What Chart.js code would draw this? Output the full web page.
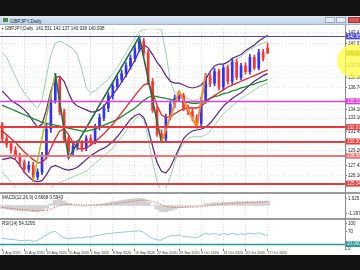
<!DOCTYPE html>
<html>
<head>
<meta charset="utf-8">
<script src="https://cdn.jsdelivr.net/npm/chart.js@4.4.1/dist/chart.umd.min.js"></script>
<style>
  html, body { margin: 0; padding: 0; background: #121212; }
  #wrap { position: relative; width: 360px; height: 270px; overflow: hidden; background: #121212; font-family: "Liberation Sans", Arial, sans-serif; }
  #titlebar { position: absolute; left: 0; top: 16px; width: 360px; height: 8px; background: linear-gradient(#dde8f5, #c2d4ea); border-bottom: 1px solid #9fb4cc; }
  #titlebar span { position: absolute; left: 10px; top: 1.5px; font-size: 5px; color: #1a2a44; }
  .icon { position: absolute; left: 3px; top: 2px; width: 5px; height: 4px; background: #4a8a4a; }
  .btn { position: absolute; top: 1px; height: 6px; width: 10px; background: #e3eaf2; border: 1px solid #9aaabb; box-sizing: border-box; }
  #close { background: #d9534f; border-color: #a33; width: 12px; }
  #chartbox { position: absolute; left: 0; top: 25px; width: 360px; height: 230px; background: #fff; }
  canvas { position: absolute; left: 0; }
  .sep { position: absolute; left: 0; width: 360px; height: 2px; background: #9a9a9a; }
  #axisline { position: absolute; left: 345px; top: 0; width: 1px; height: 224px; background: #8a8a8a; }
  .lbl { position: absolute; left: 2px; font-size: 4.5px; color: #222; white-space: nowrap; }
  #spot { position: absolute; left: 337px; top: 44px; width: 34px; height: 34px; border-radius: 50%; background: rgba(255, 255, 70, 0.78); pointer-events: none; }
</style>
</head>
<body>
<div id="wrap">
  <div id="titlebar">
    <div class="icon"></div><span>GBPJPY,Daily</span>
    <div class="btn" style="left:325px"></div>
    <div class="btn" style="left:336px"></div>
    <div class="btn" id="close" style="left:348px"></div>
  </div>
  <div id="chartbox">
    <canvas id="main" width="360" height="167" style="top:0"></canvas>
    <div class="sep" style="top:167px"></div>
    <canvas id="macd" width="360" height="24" style="top:169px"></canvas>
    <div class="sep" style="top:193px"></div>
    <canvas id="rsi" width="360" height="35" style="top:195px"></canvas>
    <div id="axisline"></div>
    <div class="lbl" style="top:1px">&#9642; GBPJPY,Daily&nbsp; 141.531 142.137 140.938 140.938</div>
    <div class="lbl" style="top:169.5px">MACD(12,26,9) 0.6668 0.5943</div>
    <div class="lbl" style="top:195.5px">RSI(14) 54.3295</div>
  </div>
  <div id="spot"></div>
</div>
<script>
// bar dates shown on the time axis, one every 5 bars
const dateLabels = ["4 Aug 2020", "11 Aug 2020", "18 Aug 2020", "25 Aug 2020", "1 Sep 2020", "8 Sep 2020",
  "15 Sep 2020", "22 Sep 2020", "29 Sep 2020", "6 Oct 2020", "13 Oct 2020", "20 Oct 2020", "27 Oct 2020"];
const slotCount = 78; // bars + empty chart shift on the right

const opens = [132.40,130.65,129.96,129.27,128.58,127.77,126.97,127.43,126.05,126.62,
  128.58,131.80,135.25,137.78,133.87,130.65,129.04,129.73,130.07,129.50,
  130.65,130.30,132.03,133.18,134.33,135.82,136.97,137.78,138.47,139.39,
  140.30,141.46,142.38,141.00,137.55,134.10,131.22,130.65,133.18,134.79,
  135.48,135.82,134.33,133.87,133.18,132.49,135.25,138.12,137.32,138.70,
  136.86,139.16,137.55,139.85,138.01,139.39,138.70,140.42,139.16,141.00,
  141.53];
const highs = [132.60,131.00,130.30,129.70,128.90,128.10,127.90,127.80,127.00,129.00,
  132.40,135.90,138.50,138.10,134.20,131.00,130.10,130.40,130.40,131.00,
  131.10,132.40,133.60,134.70,136.20,137.40,138.20,138.90,139.80,140.70,
  141.90,142.90,142.70,141.30,137.90,134.50,131.70,133.60,135.20,135.90,
  136.30,136.10,134.70,134.20,133.50,135.60,138.50,138.60,139.10,139.00,
  139.50,139.50,140.20,140.20,139.70,139.80,140.80,140.70,141.40,141.40,
  142.14];
const lows = [130.30,129.60,128.90,128.20,127.30,126.50,126.60,125.50,125.70,126.30,
  128.20,131.40,134.90,133.50,130.30,128.30,128.60,129.30,129.10,129.20,
  129.90,130.00,131.70,132.80,133.90,135.40,136.60,137.40,138.10,139.00,
  139.90,141.10,140.60,137.20,133.80,130.90,130.20,130.40,132.90,134.40,
  135.10,134.00,133.50,132.80,132.00,132.10,134.90,136.90,137.00,136.50,
  136.50,137.20,137.20,137.70,137.70,138.40,138.40,138.90,138.90,140.00,
  140.94];
const closes = [130.65,129.96,129.27,128.58,127.77,126.97,127.43,126.05,126.62,128.58,
  131.80,135.25,137.78,133.87,130.65,129.04,129.73,130.07,129.50,130.65,
  130.30,132.03,133.18,134.33,135.82,136.97,137.78,138.47,139.39,140.30,
  141.46,142.38,141.00,137.55,134.10,131.22,130.65,133.18,134.79,135.48,
  135.82,134.33,133.87,133.18,132.49,135.25,138.12,137.32,138.70,136.86,
  139.16,137.55,139.85,138.01,139.39,138.70,140.42,139.16,141.00,140.30,
  140.94];

const fastMA = [131.56,131.11,130.65,130.19,129.61,129.04,128.58,128.12,127.77,127.77,
  128.35,129.50,130.65,131.56,131.80,131.11,130.19,129.50,129.38,129.50,
  129.84,130.30,130.76,131.22,131.80,132.37,133.06,133.75,134.44,135.13,
  135.82,136.51,137.09,137.32,136.16,134.67,133.52,133.18,133.29,133.63,
  133.98,134.21,134.33,134.33,134.33,134.56,135.02,135.48,135.82,136.16,
  136.51,136.86,137.09,137.32,137.55,137.78,138.00,138.23,138.47,138.70,
  138.92];
const slowMA = [134.67,134.44,134.21,133.98,133.75,133.52,133.29,133.06,132.83,132.60,
  132.49,132.37,132.26,132.14,132.03,131.91,131.80,131.68,131.56,131.56,
  131.68,131.80,132.03,132.26,132.49,132.72,132.95,133.29,133.63,133.98,
  134.33,134.79,135.25,135.59,135.82,135.71,135.59,135.48,135.36,135.25,
  135.13,135.02,135.02,134.90,134.90,135.02,135.25,135.48,135.71,135.82,
  136.05,136.16,136.40,136.51,136.74,136.86,137.09,137.20,137.43,137.55,
  137.78];
const bandUpper = [136.40,135.82,135.25,134.90,134.56,134.10,133.52,132.72,132.03,132.37,
  134.10,136.40,138.00,138.12,137.55,136.16,135.02,134.56,134.33,134.10,
  133.87,133.87,134.10,134.56,135.25,135.94,136.63,137.43,138.23,139.16,
  140.07,141.23,141.92,141.57,140.76,139.85,139.16,138.23,137.55,137.32,
  137.32,137.09,136.86,136.74,136.86,137.09,137.78,138.70,139.39,139.62,
  139.62,139.85,140.30,140.53,140.76,141.23,141.57,141.92,142.38,142.72,
  143.07];
const bandLower = [128.12,128.23,128.35,128.12,127.43,126.62,126.05,125.59,125.47,125.59,
  126.28,127.20,127.43,127.20,126.97,126.85,126.97,127.20,127.66,128.12,
  128.58,128.92,129.27,129.50,129.84,130.30,130.87,131.56,132.26,132.95,
  133.41,133.63,133.18,131.80,129.73,127.77,126.73,126.50,127.20,128.35,
  129.50,130.65,131.22,131.56,131.68,131.80,132.03,132.49,133.18,133.87,
  134.56,135.02,135.48,135.82,136.16,136.63,137.09,137.55,137.89,138.23,
  138.47];
const outerUpper = [141.00,140.42,139.27,138.12,136.97,136.16,135.48,134.79,134.33,135.25,
  138.12,140.76,142.14,142.38,142.14,141.80,141.46,140.76,138.92,136.74,
  136.16,136.40,136.86,137.32,137.78,138.47,139.16,140.07,141.00,141.92,
  142.72,143.53,143.76,143.87,143.87,143.87,143.76,141.00,137.55,136.16,
  136.16,135.82,135.48,135.25,135.25,135.71,136.63,137.55,138.23,138.70,
  138.92,139.39,139.85,140.19,140.53,141.00,141.34,141.69,141.92,142.14,
  142.38];
const outerLower = [126.62,126.05,125.36,124.67,123.97,123.17,122.59,122.37,122.37,122.82,
  123.74,124.67,125.13,125.36,125.59,125.82,126.05,126.28,126.50,126.73,
  127.20,127.66,128.12,128.58,129.04,129.50,130.19,130.87,131.56,132.26,
  132.95,133.41,132.95,130.65,127.77,125.47,124.32,124.67,126.05,127.77,
  129.27,130.07,130.65,130.87,130.87,130.87,131.11,131.56,132.26,132.95,
  133.63,134.10,134.56,135.02,135.48,135.82,136.16,136.51,136.86,137.09,
  137.32];

// zigzag turning points: bar index and price
const zigEarlyIdx = [7, 12];
const zigEarlyVal = [125.50, 138.50];
const zigMainIdx = [12, 15, 31, 36];
const zigMainVal = [138.50, 128.30, 142.90, 130.20];
const zigLateIdx = [36, 40, 44, 46];
const zigLateVal = [130.20, 136.30, 132.00, 138.50];

// horizontal levels and current price
const levelValues = [142.950, 135.130, 132.030, 130.300, 128.580, 125.240];
const lastPrice = 140.938;
const priceTicks = [143.410, 142.030, 139.380, 138.000, 136.740, 134.100, 133.100,
  131.450, 129.200, 127.430, 126.160];

const macdMain = [-0.45,-0.55,-0.62,-0.70,-0.78,-0.85,-0.88,-0.95,-0.98,-0.80,
  -0.40,0.25,0.80,0.95,0.70,0.35,0.10,-0.05,-0.10,-0.05,
  0.02,0.10,0.20,0.30,0.42,0.55,0.68,0.80,0.90,1.00,
  1.08,1.12,1.00,0.55,0.00,-0.55,-0.95,-1.00,-0.80,-0.55,
  -0.35,-0.25,-0.20,-0.15,-0.10,0.05,0.25,0.35,0.45,0.45,
  0.50,0.50,0.55,0.55,0.55,0.55,0.60,0.60,0.65,0.62,
  0.6668];
const macdSignal = [-0.30,-0.38,-0.45,-0.52,-0.58,-0.65,-0.70,-0.75,-0.80,-0.80,
  -0.72,-0.52,-0.25,0.00,0.15,0.22,0.20,0.15,0.10,0.07,
  0.06,0.07,0.10,0.14,0.20,0.27,0.35,0.44,0.53,0.62,
  0.71,0.79,0.83,0.78,0.62,0.39,0.12,-0.10,-0.24,-0.30,
  -0.31,-0.30,-0.28,-0.25,-0.22,-0.17,-0.09,0.00,0.09,0.16,
  0.23,0.28,0.33,0.37,0.41,0.44,0.47,0.50,0.53,0.57,
  0.5943];
const macdTicks = [1.025, 0, -1.2979];

const rsiValues = [42,40,38,36,34,32,35,30,34,44,
  56,66,70,55,45,40,43,45,44,48,
  47,52,55,58,61,63,65,66,68,69,
  71,72,66,52,42,36,35,46,52,54,
  55,50,48,46,44,54,62,58,62,55,
  61,56,62,57,60,58,63,59,64,58,
  54.33];
const rsiTicks = [100, 70, 0];
const rsiLevel = 20;

// ---- build what the library needs ----
const categories = Array.from({ length: slotCount }, (_, i) =>
  (i % 5 === 0 && dateLabels[i / 5]) ? dateLabels[i / 5] : '');
function sparse(idx, vals) {
  const arr = new Array(slotCount).fill(null);
  idx.forEach((k, j) => { arr[k] = vals[j]; });
  return arr;
}
const candleColors = closes.map((c, i) => c >= opens[i] ? '#3030ff' : '#ff3030');
const isLabelled = i => i % 5 === 0 && i / 5 < dateLabels.length;

const levelPlugin = {
  id: 'levels',
  afterDatasetsDraw(chart, args, opts) {
    const { ctx, chartArea: a, scales } = chart;
    ctx.save();
    (opts.lines || []).forEach(l => {
      const py = Math.round(scales.y.getPixelForValue(l.value)) + (l.width % 2 ? 0.5 : 0);
      ctx.strokeStyle = l.color;
      ctx.lineWidth = l.width;
      ctx.beginPath();
      ctx.moveTo(a.left, py);
      ctx.lineTo(a.right, py);
      ctx.stroke();
    });
    ctx.restore();
  },
  afterDraw(chart, args, opts) {
    const { ctx, chartArea: a, scales } = chart;
    ctx.save();
    ctx.font = '4.5px "Liberation Sans", Arial, sans-serif';
    ctx.textBaseline = 'middle';
    (opts.boxes || []).forEach(b => {
      const py = scales.y.getPixelForValue(b.value);
      ctx.fillStyle = b.bg;
      ctx.fillRect(a.right + 1, py - 3, 16, 6);
      ctx.fillStyle = b.fg;
      ctx.fillText(b.text, a.right + 2, py + 0.3);
    });
    ctx.restore();
  }
};

const levelColors = ['#4646d8', '#e03ce0', '#e83a3a', '#e83a3a', '#ee7878', '#e83a3a'];
const levelWidths = [1, 1.5, 2, 2, 2, 2];

function xScale(showLabels) {
  return {
    offset: true,
    grid: {
      offset: false,
      drawTicks: showLabels,
      tickLength: 2,
      color: c => isLabelled(c.index) ? '#cfcfcf' : 'rgba(0,0,0,0)',
      tickColor: c => isLabelled(c.index) ? '#777' : 'rgba(0,0,0,0)'
    },
    border: { display: false, dash: [1, 2] },
    ticks: {
      display: showLabels, autoSkip: false, maxRotation: 0, align: 'start',
      padding: 0, color: '#333', font: { size: 3.6, family: 'Liberation Sans' }
    },
    afterFit(s) { s.height = showLabels ? 6 : 0; }
  };
}
function yScale(min, max, ticks, fmt, hGrid) {
  return {
    position: 'right', min, max,
    afterBuildTicks(s) { s.ticks = ticks.map(v => ({ value: v })); },
    afterFit(s) { s.width = 15; },
    grid: { color: hGrid ? '#e2e2e2' : 'rgba(0,0,0,0)', tickLength: 2, tickColor: '#777' },
    border: { display: false, dash: [1, 2] },
    ticks: { padding: 1, color: '#222', font: { size: 4.5, family: 'Liberation Sans' }, callback: fmt }
  };
}
const baseOpts = {
  responsive: false, animation: false, devicePixelRatio: 1,
  layout: { padding: 0 },
  events: []
};
function line(data, color, width, order, extra) {
  return Object.assign({ type: 'line', data, borderColor: color, borderWidth: width,
    pointRadius: 0, tension: 0, fill: false, order }, extra || {});
}

new Chart(document.getElementById('main'), {
  type: 'bar',
  data: {
    labels: categories,
    datasets: [
      line(outerUpper, '#95d4a8', 1, 9),
      line(outerLower, '#95d4a8', 1, 9),
      line(bandUpper, '#5b1f8c', 1.2, 8),
      line(bandLower, '#5b1f8c', 1.2, 8),
      { type: 'bar', data: lows.map((l, i) => [l, highs[i]]), backgroundColor: candleColors,
        barThickness: 1, grouped: false, order: 7 },
      { type: 'bar', data: opens.map((o, i) => [o, closes[i]]), backgroundColor: candleColors,
        barThickness: 2, minBarLength: 1, grouped: false, order: 6 },
      line(slowMA, '#1e8a2e', 1.3, 5),
      line(fastMA, '#e02828', 1.3, 4),
      line(sparse(zigEarlyIdx, zigEarlyVal), '#a8c820', 1.6, 3, { spanGaps: true }),
      line(sparse(zigMainIdx, zigMainVal), '#1f6f3f', 1.6, 2, { spanGaps: true }),
      line(sparse(zigLateIdx, zigLateVal), '#ff8c1a', 2, 1, { spanGaps: true })
    ]
  },
  options: Object.assign({}, baseOpts, {
    plugins: {
      legend: { display: false }, tooltip: { enabled: false },
      levels: {
        lines: levelValues.map((v, i) => ({ value: v, color: levelColors[i], width: levelWidths[i] })),
        boxes: levelValues.map((v, i) => ({ value: v, bg: levelColors[i], fg: '#fff', text: v.toFixed(3) }))
          .concat([{ value: lastPrice, bg: '#b5b22a', fg: '#222', text: lastPrice.toFixed(3) }])
      }
    },
    scales: {
      x: xScale(false),
      y: yScale(124.67, 143.87, priceTicks, v => v.toFixed(3), true)
    }
  }),
  plugins: [levelPlugin]
});

new Chart(document.getElementById('macd'), {
  type: 'bar',
  data: {
    labels: categories,
    datasets: [
      line(macdSignal, '#e05050', 1, 1, { borderDash: [1, 1.5] }),
      { type: 'bar', data: macdMain, backgroundColor: '#d2d2d2', barPercentage: 1,
        categoryPercentage: 1, order: 2 }
    ]
  },
  options: Object.assign({}, baseOpts, {
    plugins: { legend: { display: false }, tooltip: { enabled: false } },
    scales: {
      x: xScale(false),
      y: yScale(-1.35, 1.2, macdTicks, v => v === 0 ? '0.00' : String(v), false)
    }
  })
});

new Chart(document.getElementById('rsi'), {
  type: 'line',
  data: {
    labels: categories,
    datasets: [line(rsiValues, '#8ec5ea', 1, 1)]
  },
  options: Object.assign({}, baseOpts, {
    plugins: {
      legend: { display: false }, tooltip: { enabled: false },
      levels: {
        lines: [{ value: rsiLevel, color: '#2a9a9a', width: 1.5 }],
        boxes: [{ value: rsiLevel, bg: '#2a9a9a', fg: '#fff', text: rsiLevel.toFixed(4) }]
      }
    },
    scales: {
      x: xScale(true),
      y: yScale(0, 100, rsiTicks, v => String(v), false)
    }
  }),
  plugins: [levelPlugin]
});
</script>
</body>
</html>
